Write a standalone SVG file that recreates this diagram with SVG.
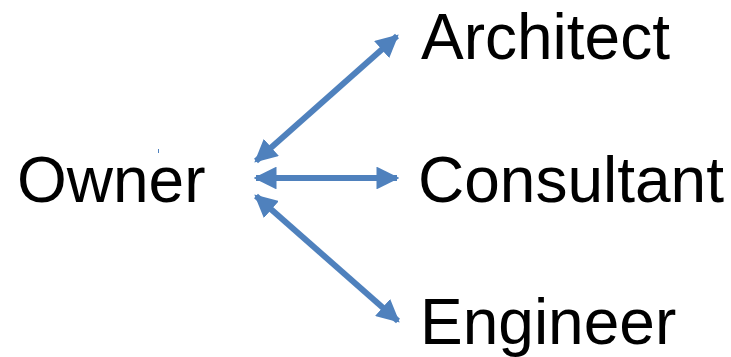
<svg xmlns="http://www.w3.org/2000/svg" width="731" height="357" viewBox="0 0 731 357">
<style>
text{font-family:"Liberation Sans",Arial,sans-serif;font-size:64px;fill:#000}
.c{stroke:#4f81bd;stroke-width:6;fill:none}
.h{fill:#4f81bd}
</style>
<defs>
<marker id="ah" viewBox="0 0 10 10" refX="9" refY="5" markerWidth="3.8" markerHeight="3.8" orient="auto-start-reverse" markerUnits="strokeWidth">
<path d="M0,0 L10,5 L0,10 z" class="h"/>
</marker>
</defs>
<rect width="731" height="357" fill="#fff"/>
<g id="owner"><text x="17" y="202">Owner</text></g>
<g id="architect"><text x="421" y="59">Architect</text></g>
<g id="consultant"><text x="418" y="202">Consultant</text></g>
<g id="engineer"><text x="420" y="344">Engineer</text></g>
<g id="connectors">
<line class="c" x1="256" y1="161" x2="397" y2="36" marker-start="url(#ah)" marker-end="url(#ah)"/>
<line class="c" x1="256" y1="178" x2="397" y2="178" marker-start="url(#ah)" marker-end="url(#ah)"/>
<line class="c" x1="256" y1="196" x2="398" y2="321" marker-start="url(#ah)" marker-end="url(#ah)"/>
</g>
<line x1="158.5" y1="149" x2="158.5" y2="153" stroke="#4f81bd" stroke-width="1"/>
</svg>
